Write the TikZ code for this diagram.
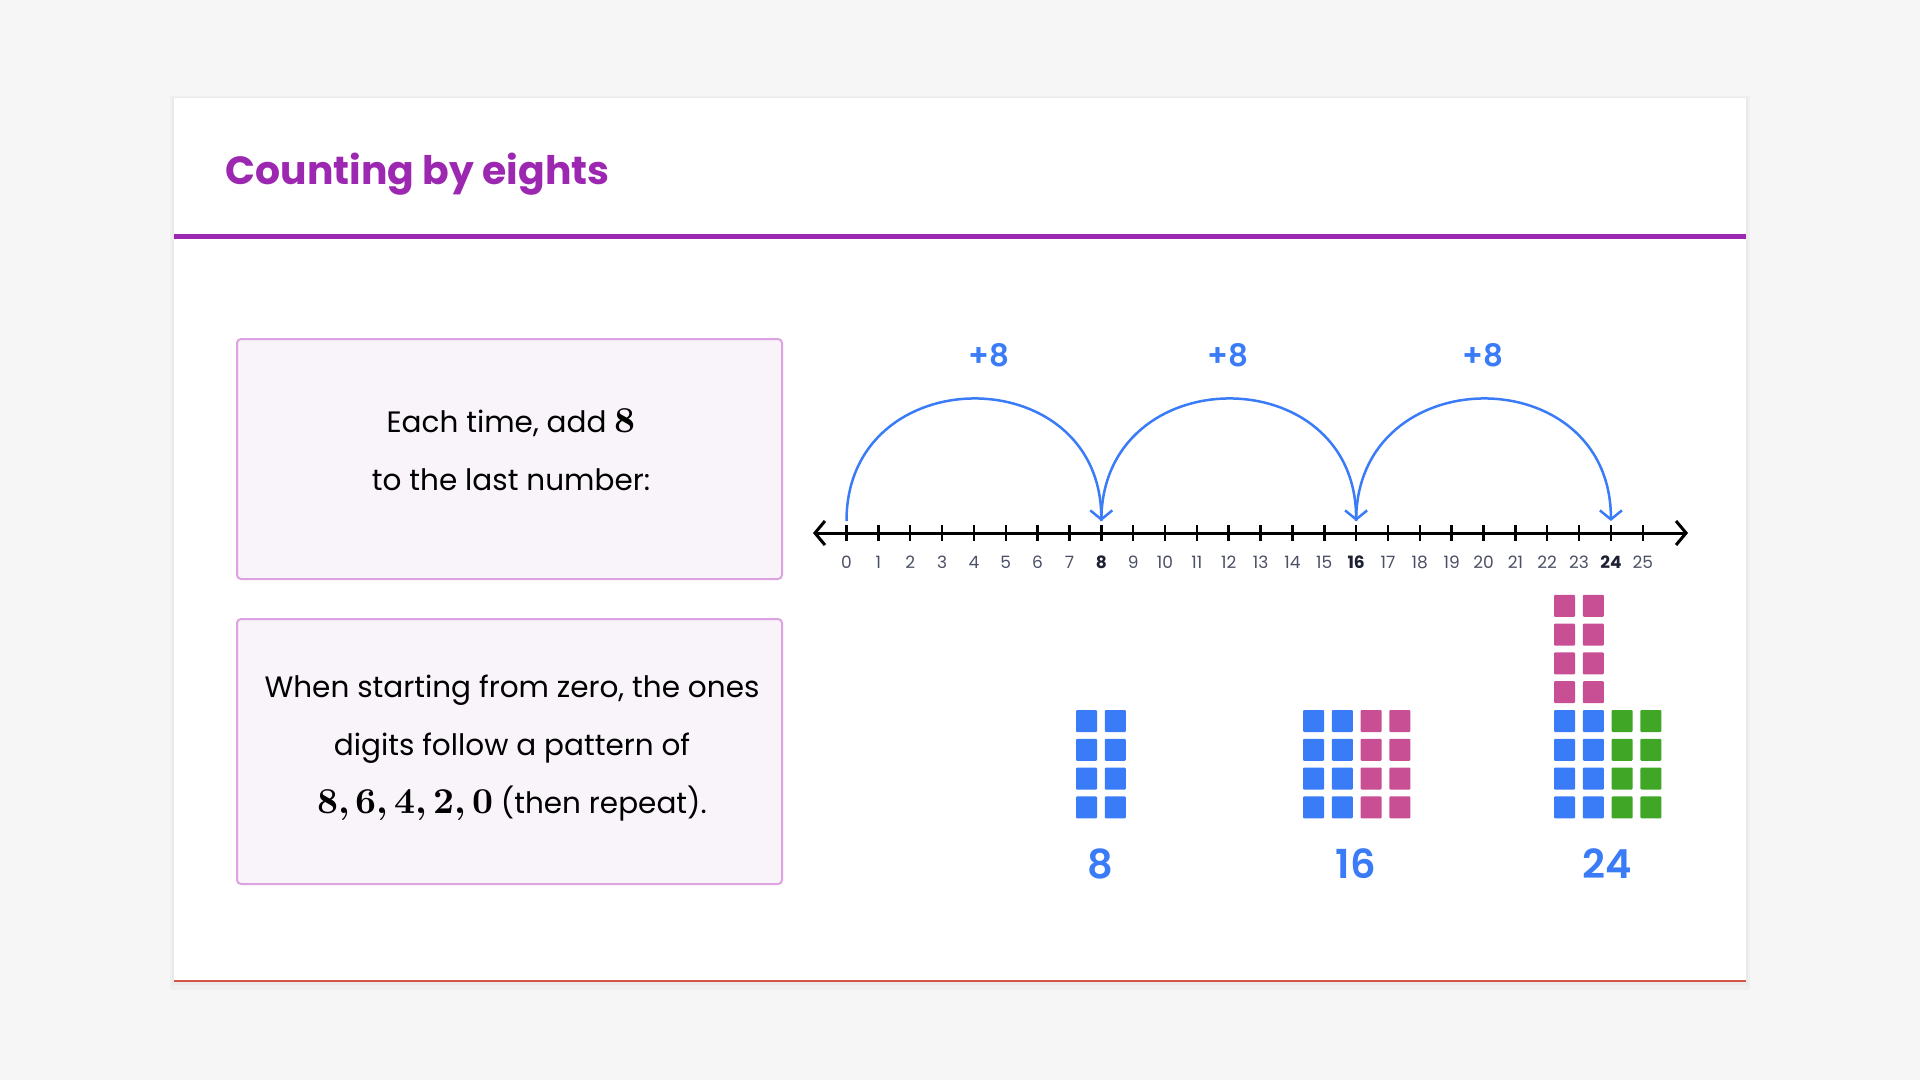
\documentclass[tikz,border=0pt]{standalone}
\usepackage[no-math]{fontspec}
\setmainfont{Poppins}
\newfontfamily\semib{Poppins SemiBold}
\newfontfamily\lmbold{lmroman10-bold}[Extension=.otf]
\usetikzlibrary{arrows.meta,positioning}

\definecolor{pagegray}{HTML}{F6F6F6}
\definecolor{titlepurple}{HTML}{9C27B0}
\definecolor{boxfill}{HTML}{F9F3FA}
\definecolor{boxline}{HTML}{DCA3E0}
\definecolor{jumpblue}{HTML}{3A7BF7}
\definecolor{tilepink}{HTML}{C94F94}
\definecolor{tilegreen}{HTML}{3FA626}
\definecolor{ticklabel}{HTML}{4B5064}
\definecolor{tickbold}{HTML}{1E2133}
\definecolor{cardedge}{HTML}{D45549}

\newcommand\bignum[1]{{\lmbold\fontsize{36.5}{36.5}\selectfont #1}}

\tikzset{
  infobox/.style={draw=boxline, fill=boxfill, line width=2pt, rounded corners=4pt,
    minimum width=545pt, inner sep=0pt},
  boxtext/.style={align=center, inner sep=0pt, text=black, font=\fontsize{29.5}{58}\selectfont},
  ticknum/.style={inner sep=0pt, text=ticklabel, font=\fontsize{17}{17}\selectfont},
  jumplabel/.style={inner sep=0pt, text=jumpblue, font=\semib\fontsize{31}{31}\selectfont},
  sumlabel/.style={inner sep=0pt, text=jumpblue, font=\semib\fontsize{40}{40}\selectfont},
  tile/.style={minimum width=21pt, minimum height=22pt, inner sep=0pt, rounded corners=1pt},
  jump/.style={jumpblue, line width=2.5pt, -{Straight Barb[length=9pt,width=22pt]}},
  numline/.style={line width=3pt, {Straight Barb[length=10pt,width=24pt]}-{Straight Barb[length=10pt,width=24pt]}},
}

\begin{document}
\begin{tikzpicture}[x=1pt, y=-1pt]
  \useasboundingbox (0,0) rectangle (1920,1080);
  \fill[pagegray] (0,0) rectangle (1920,1080);
  % card
  \fill[black, opacity=0.025] (170,96) rectangle (1750,990);
  \fill[black, opacity=0.025] (172,97) rectangle (1748,985);
  \fill[white] (174,98) rectangle (1746,981);
  \draw[cardedge, line width=1.5pt] (174,981) -- (1746,981);
  \node[anchor=west, inner sep=0pt, text=titlepurple, font=\bfseries\fontsize{39.3}{39.3}\selectfont] (title) at (225.5,174.5) {Counting by eights};
  \draw[titlepurple, line width=5pt] (174,236) -- (1746,236);

  % text boxes
  \node[infobox, minimum height=240pt] (box1) at (509.5,459) {};
  \node[boxtext] (msg1) at (511,450) {Each time, add \bignum{8}\\to the last number:};
  \node[infobox, minimum height=265pt] (box2) at (509.5,751.5) {};
  \node[boxtext] (msg2) at (512,748) {When starting from zero, the ones\\digits follow a pattern of\\\bignum{8,\,6,\,4,\,2,\,0} (then repeat).};

  % number line
  \coordinate (lineL) at (813,533);
  \coordinate (lineR) at (1688,533);
  \draw[numline] (lineL) -- (lineR);
  \foreach \i in {0,...,25}{
    \coordinate (t\i) at ({846.5+31.85*\i},533);
    \coordinate (h\i) at ({846.5+31.85*\i},521);
    \draw[line width=2.5pt] ([yshift=8pt]t\i) -- ([yshift=-8pt]t\i);
    \pgfmathtruncatemacro\r{mod(\i,8)}
    \ifnum\r=0 \ifnum\i>0 \def\tf{\bfseries\color{tickbold}}\else\def\tf{}\fi\else\def\tf{}\fi
    \node[ticknum] (n\i) at ({846.5+31.85*\i},562) {\tf\i};
  }
  \draw[jump] (h0) to[out=90, in=90, looseness=1.64] (h8);
  \draw[jump] (h8) to[out=90, in=90, looseness=1.64] (h16);
  \draw[jump] (h16) to[out=90, in=90, looseness=1.64] (h24);
  \node[jumplabel] (plus1) at (989,355) {+8};
  \node[jumplabel] (plus2) at (1228,355) {+8};
  \node[jumplabel] (plus3) at (1483,355) {+8};

  % tiles
  \foreach \r in {0,...,3}{
    \foreach \c in {0,1}{
      \node[tile, fill=jumpblue] (a\c\r) at ({1086.5+28.8*\c},{721+28.8*\r}) {};
      \node[tile, fill=jumpblue] (b\c\r) at ({1313.5+28.8*\c},{721+28.8*\r}) {};
      \node[tile, fill=jumpblue] (c\c\r) at ({1564.5+28.8*\c},{721+28.8*\r}) {};
      \node[tile, fill=tilepink] (d\c\r) at ({1564.5+28.8*\c},{605.8+28.8*\r}) {};
    }
    \foreach \c in {2,3}{
      \node[tile, fill=tilepink] (b\c\r) at ({1313.5+28.8*\c},{721+28.8*\r}) {};
      \node[tile, fill=tilegreen] (c\c\r) at ({1564.5+28.8*\c},{721+28.8*\r}) {};
    }
  }
  \node[sumlabel] (sum8) at (1100,864) {8};
  \node[sumlabel] (sum16) at (1356,864) {16};
  \node[sumlabel] (sum24) at (1607,864) {24};
\end{tikzpicture}
\end{document}
